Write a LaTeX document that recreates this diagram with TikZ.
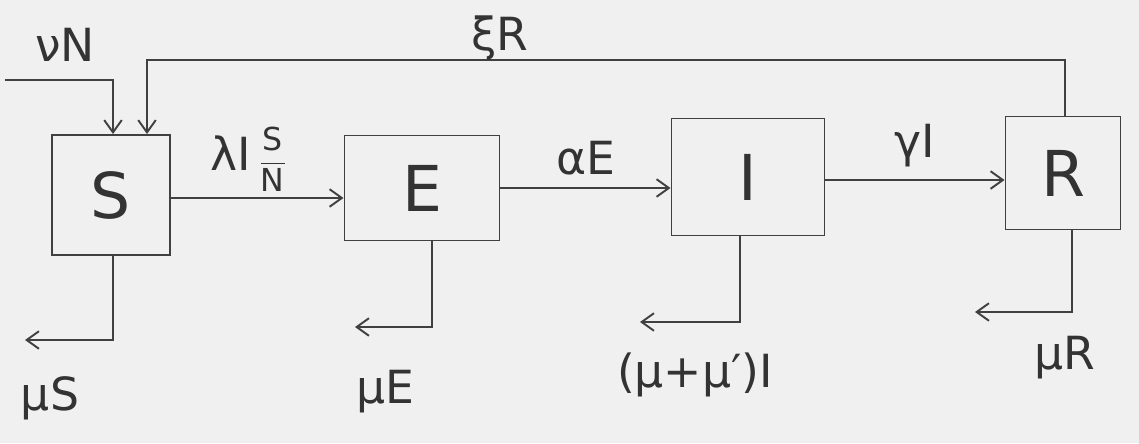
\documentclass[tikz,border=0pt]{standalone}
\usepackage{fontspec}
\usepackage{amsmath}
\setmainfont{DejaVu Sans}
\usetikzlibrary{arrows.meta}
\begin{document}
\begin{tikzpicture}[x=0.02cm,y=-0.02cm,
  line width=1.1pt,
  ink/.style={draw=black!75},
  comp/.style={ink, minimum width=#1, inner sep=0pt, font=\fontsize{36}{38}\selectfont, text=black!80},
  flow/.style={ink, -{Straight Barb[length=7pt,width=10pt]}},
  lbl/.style={font=\fontsize{26}{28}\selectfont, text=black!80, inner sep=1pt}]
\fill[black!6] (0,0) rectangle (1139,443);
\useasboundingbox (0,0) rectangle (1139,443);
% compartments
\node[comp, minimum width=118*0.02cm, minimum height=120*0.02cm] (S) at (111,195) {S};
\node[comp, minimum width=155*0.02cm, minimum height=105*0.02cm] (E) at (422,188) {E};
\node[comp, minimum width=153*0.02cm, minimum height=117*0.02cm] (I) at (748,177) {I};
\node[comp, minimum width=115*0.02cm, minimum height=113*0.02cm] (R) at (1063,173) {R};
% coordinates
\coordinate (nuA) at (5,80);
\coordinate (nuB) at (113,80);
\coordinate (xiA) at (1065,60);
\coordinate (xiB) at (147,60);
\coordinate (dS) at (25,340);
\coordinate (dE) at (355,327);
\coordinate (dI) at (640,322);
\coordinate (dR) at (975,312);
% transitions
\draw[flow] (S.east |- 0,198) -- (E.west |- 0,198) node[lbl, pos=0.45, above=2pt] {λI\,{\fontsize{18}{18}\selectfont$\dfrac{\text{S}}{\text{N}}$}};
\draw[flow] (E.east |- 0,188) -- (I.west |- 0,188) node[lbl, midway, above=6pt] {αE};
\draw[flow] (I.east |- 0,180) -- (R.west |- 0,180) node[lbl, midway, above=6pt] {γI};
% recruitment
\draw[flow] (nuA) -- (nuB) -- (nuB |- S.north);
\node[lbl] (nu) at (65,45) {νN};
% recovery loss of immunity
\draw[flow] (R.north -| xiA) -- (xiA) -- (xiB) -- (xiB |- S.north);
\node[lbl] (xi) at (500,38) {ξR};
% deaths
\draw[flow] (S.south -| 113,0) -- (113,340) -- (dS);
\draw[flow] (E.south -| 432,0) -- (432,327) -- (dE);
\draw[flow] (I.south -| 740,0) -- (740,322) -- (dI);
\draw[flow] (R.south -| 1072,0) -- (1072,312) -- (dR);
\node[lbl] (mS) at (50,398) {μS};
\node[lbl] (mE) at (385,392) {μE};
\node[lbl] (mI) at (695,375) {(μ+μ′)I};
\node[lbl] (mR) at (1065,358) {μR};
\end{tikzpicture}
\end{document}
